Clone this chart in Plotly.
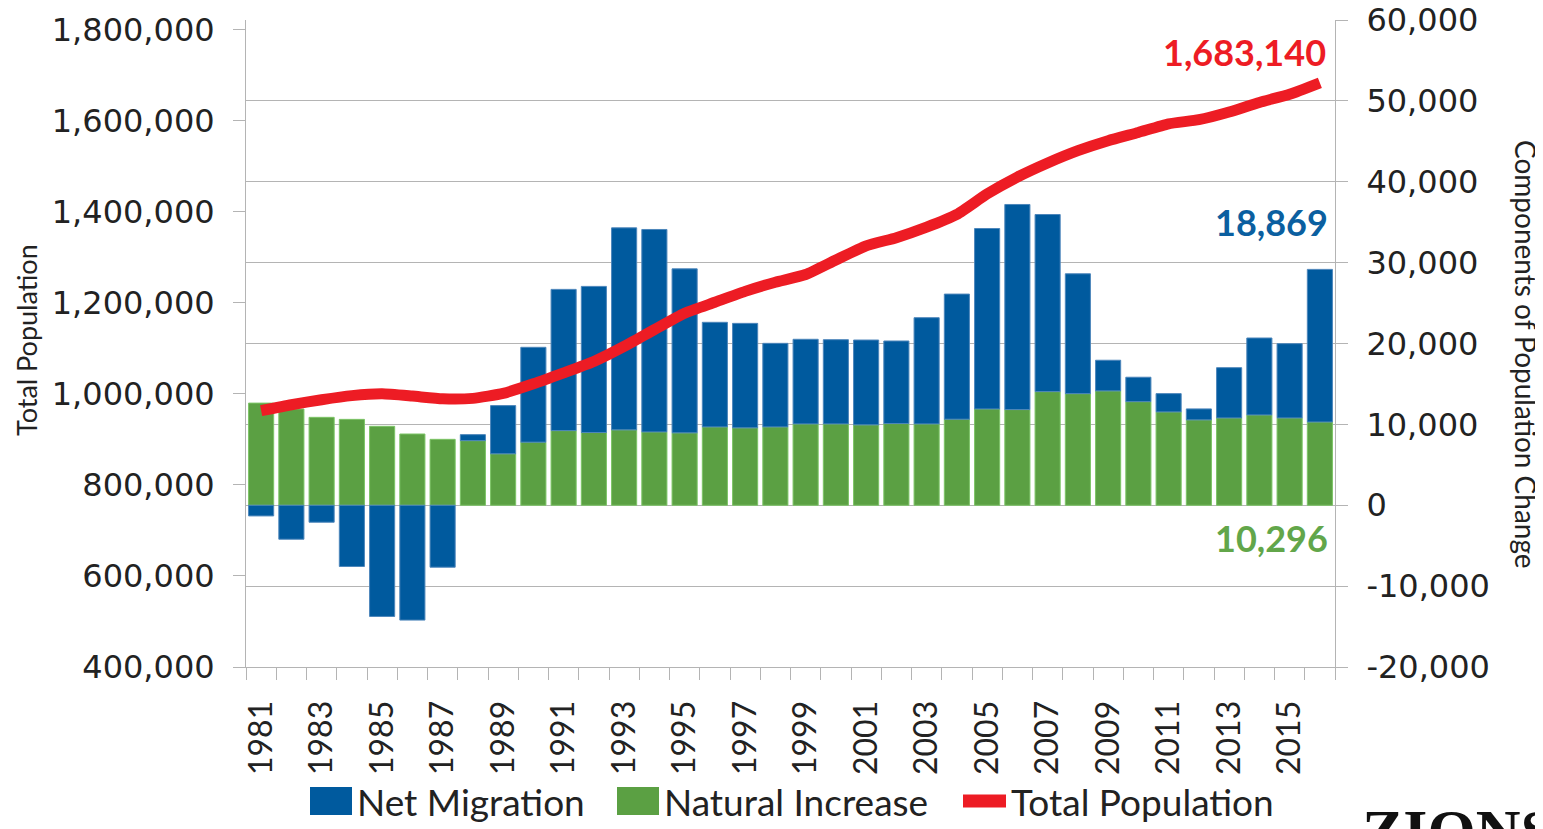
import plotly.graph_objects as go

years = list(range(1981, 2017))
natural_increase = [12630, 11900, 10870, 10620, 9760, 8810, 8150, 7990, 6360, 7800,
                    9230, 8990, 9320, 9070, 8950, 9690, 9570, 9690, 10060, 10060,
                    9940, 10100, 10060, 10640, 11910, 11830, 14050, 13800, 14140, 12810,
                    11540, 10560, 10800, 11170, 10800, 10296]
net_migration = [-1320, -4200, -2100, -7570, -13750, -14200, -7660, 740, 5960, 11730,
                 17460, 18070, 24980, 25030, 20280, 12930, 12920, 10330, 10460, 10410,
                 10490, 10210, 13130, 15470, 22310, 25360, 21900, 14820, 3790, 3020,
                 2260, 1350, 6210, 9510, 9180, 18869]
total_population = [963000, 976000, 987000, 996000, 1000000, 995000, 989000, 990000, 1001000, 1022000,
                    1046000, 1071000, 1104000, 1141000, 1177000, 1201000, 1225000, 1245000, 1262000, 1294000,
                    1325000, 1343000, 1366000, 1394000, 1439000, 1476000, 1507000, 1534000, 1556000, 1574000,
                    1593000, 1602000, 1619000, 1640000, 1658000, 1683140]
label_years = [str(y) for y in range(1981, 2017, 2)]
component_ticks = [-20000, -10000, 0, 10000, 20000, 30000, 40000, 50000, 60000]
component_labels = ["-20,000", "-10,000", "0", "10,000", "20,000", "30,000", "40,000", "50,000", "60,000"]
population_ticks = [400000, 600000, 800000, 1000000, 1200000, 1400000, 1600000, 1800000]
population_labels = ["400,000", "600,000", "800,000", "1,000,000", "1,200,000", "1,400,000",
                     "1,600,000", "1,800,000"]

BLUE = "#005a9e"
GREEN = "#5ba043"
RED = "#ed1c24"
TXT = "#222222"
GRID = "#b4b4b4"
LAT = "Lato, 'Open Sans', sans-serif"
DJ = "'DejaVu Sans', Verdana, sans-serif"

fig = go.Figure()
fig.add_trace(go.Bar(x=years, y=natural_increase, name="Natural Increase",
                     marker=dict(color=GREEN, line=dict(color="#7cc466", width=1)),
                     yaxis="y", showlegend=False))
fig.add_trace(go.Bar(x=years, y=net_migration, name="Net Migration",
                     marker=dict(color=BLUE, line=dict(color="#4d86bb", width=1)),
                     yaxis="y", showlegend=False))
fig.add_trace(go.Scatter(x=years, y=total_population, name="Total Population", mode="lines",
                         line=dict(color=RED, width=11, shape="spline", smoothing=0.5),
                         yaxis="y2", showlegend=False))

# page body has an 8px margin: the figure is sized so it fills the 1543x829 window
fig.update_layout(
    width=1535, height=821,
    margin=dict(l=238, r=208, t=12, b=162, autoexpand=False),
    paper_bgcolor="white", plot_bgcolor="white",
    barmode="relative", bargap=0.17,
    xaxis=dict(range=[1980.5, 2016.5], tickmode="array", tickvals=list(range(1981, 2017, 2)),
               ticktext=label_years, tickangle=-90, ticks="", showgrid=False, automargin=False,
               showline=True, linecolor=GRID, linewidth=1,
               tickfont=dict(family=LAT, size=32, color=TXT),
               minor=dict(tickmode="linear", tick0=1980.5, dtick=1, ticks="outside",
                          ticklen=12, tickcolor=GRID, showgrid=False),
               ticklabelstandoff=20),
    yaxis=dict(side="right", range=[-20000, 60000], tickmode="array", tickvals=component_ticks,
               ticktext=component_labels, automargin=False, ticklabeloverflow="allow",
               showgrid=True, gridcolor=GRID, gridwidth=1, zeroline=True, zerolinecolor=GRID,
               zerolinewidth=1, showline=True, linecolor=GRID, ticks="outside", ticklen=12,
               tickcolor=GRID, tickfont=dict(family=DJ, size=32, color=TXT),
               ticklabelstandoff=12),
    yaxis2=dict(side="left", overlaying="y", range=[400000, 1821000], tickmode="array",
                tickvals=population_ticks, ticktext=population_labels, automargin=False,
                ticklabeloverflow="allow",
                showgrid=False, zeroline=False, showline=True, linecolor=GRID,
                ticks="outside", ticklen=12, tickcolor=GRID,
                tickfont=dict(family=DJ, size=32, color=TXT), ticklabelstandoff=12),
)

def px_x(p):
    return (p - 246) / 1089.0

def px_y(p):
    return (667 - p) / 647.0

# axis titles
fig.add_annotation(text="Total Population", xref="paper", yref="paper", x=px_x(27), y=px_y(340),
                   xanchor="center", yanchor="middle", textangle=-90, showarrow=False,
                   font=dict(family=LAT, size=27, color=TXT))
fig.add_annotation(text="Components of Population Change", xref="paper", yref="paper",
                   x=px_x(1526), y=px_y(354), xanchor="center", yanchor="middle", textangle=90,
                   showarrow=False, font=dict(family=LAT, size=28, color=TXT))

# value labels
fig.add_annotation(text="<b>" + f"{total_population[-1]:,}" + "</b>", xref="paper", yref="paper",
                   x=px_x(1328), y=px_y(52), xanchor="right", yanchor="middle", showarrow=False,
                   font=dict(family=LAT, size=36, color=RED))
fig.add_annotation(text="<b>" + f"{net_migration[-1]:,}" + "</b>", xref="paper", yref="paper",
                   x=px_x(1330), y=px_y(222), xanchor="right", yanchor="middle", showarrow=False,
                   font=dict(family=LAT, size=36, color="#0b5fa0"))
fig.add_annotation(text="<b>" + f"{natural_increase[-1]:,}" + "</b>", xref="paper", yref="paper",
                   x=px_x(1330), y=px_y(538), xanchor="right", yanchor="middle", showarrow=False,
                   font=dict(family=LAT, size=36, color="#62a64a"))

# manual legend
fig.add_shape(type="rect", xref="paper", yref="paper", x0=px_x(310), x1=px_x(352),
              y0=px_y(815), y1=px_y(787), fillcolor=BLUE, line=dict(width=0))
fig.add_annotation(text="Net Migration", xref="paper", yref="paper", x=px_x(355), y=px_y(801),
                   xanchor="left", yanchor="middle", showarrow=False,
                   font=dict(family=LAT, size=37, color=TXT))
fig.add_shape(type="rect", xref="paper", yref="paper", x0=px_x(617), x1=px_x(659),
              y0=px_y(815), y1=px_y(787), fillcolor=GREEN, line=dict(width=0))
fig.add_annotation(text="Natural Increase", xref="paper", yref="paper", x=px_x(662), y=px_y(801),
                   xanchor="left", yanchor="middle", showarrow=False,
                   font=dict(family=LAT, size=37, color=TXT))
fig.add_shape(type="line", xref="paper", yref="paper", x0=px_x(963), x1=px_x(1006),
              y0=px_y(801), y1=px_y(801), line=dict(color=RED, width=13))
fig.add_annotation(text="Total Population", xref="paper", yref="paper", x=px_x(1009), y=px_y(801),
                   xanchor="left", yanchor="middle", showarrow=False,
                   font=dict(family=LAT, size=37, color=TXT))

# logo text (cut off at the bottom edge, as in the reference)
fig.add_annotation(text="<b>ZIONS</b>", xref="paper", yref="paper", x=px_x(1360), y=px_y(795),
                   xanchor="left", yanchor="top", showarrow=False,
                   font=dict(family="'Liberation Serif', serif", size=62, color="#111111"))

fig.write_html("out.html")
